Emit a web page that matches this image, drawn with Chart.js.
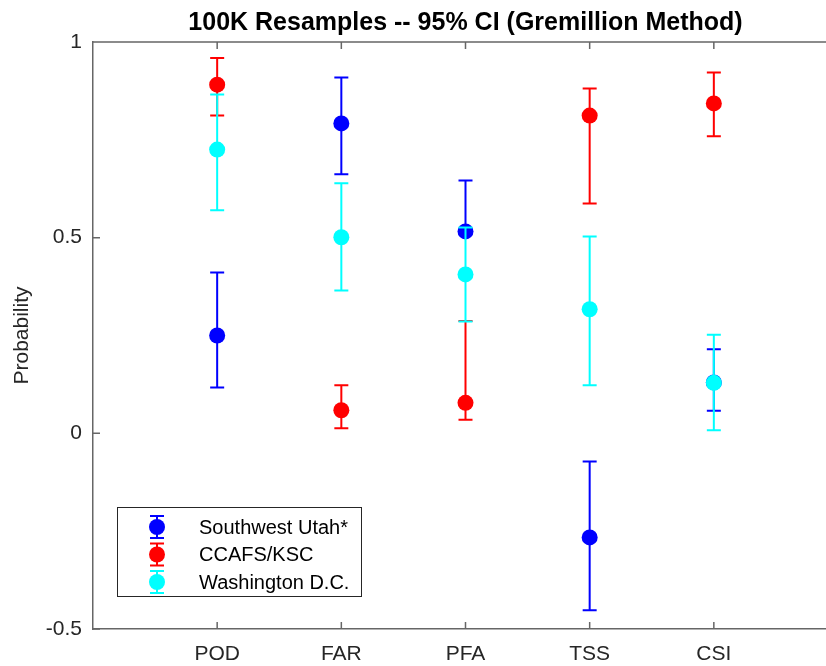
<!DOCTYPE html>
<html>
<head>
<meta charset="utf-8">
<title>Resample CI</title>
<script src="https://cdn.jsdelivr.net/npm/chart.js@4/dist/chart.umd.min.js"></script>
<style>
  html, body { margin: 0; padding: 0; overflow: hidden; background: #fff; }
</style>
</head>
<body>
<canvas id="chart" width="930" height="666"></canvas>
<script>
const metrics = ["POD", "FAR", "PFA", "TSS", "CSI"];
const yTicks = [-0.5, 0, 0.5, 1];

// mean and 95% interval per metric
const utahMean = [0.250, 0.792, 0.516, -0.266, 0.130];
const utahLow = [0.117, 0.662, 0.511, -0.452, 0.058];
const utahHigh = [0.411, 0.909, 0.646, -0.072, 0.215];

const kscMean = [0.891, 0.059, 0.078, 0.812, 0.843];
const kscLow = [0.812, 0.013, 0.035, 0.587, 0.759];
const kscHigh = [0.959, 0.123, 0.287, 0.881, 0.922];

const dcMean = [0.725, 0.501, 0.406, 0.317, 0.129];
const dcLow = [0.570, 0.365, 0.286, 0.123, 0.008];
const dcHigh = [0.866, 0.639, 0.526, 0.503, 0.252];

const series = [
  { label: "Southwest Utah*", color: "#0000ff", mean: utahMean, low: utahLow, high: utahHigh, order: 2 },
  { label: "CCAFS/KSC", color: "#ff0000", mean: kscMean, low: kscLow, high: kscHigh, order: 1 },
  { label: "Washington D.C.", color: "#00ffff", mean: dcMean, low: dcLow, high: dcHigh, order: 0 },
];

const FONT = '"Liberation Sans", Arial, Helvetica, sans-serif';
const AXIS = "#666666";
const TEXT = "#262626";
Chart.defaults.font.family = FONT;

// vertical bar + caps, drawn right before each series' markers
const errorBars = {
  id: "errorBars",
  beforeDatasetDraw(chart, args) {
    const ds = chart.data.datasets[args.index];
    const xs = chart.scales.x, ys = chart.scales.y;
    const ctx = chart.ctx;
    ctx.save();
    ctx.strokeStyle = ds.borderColor;
    ctx.lineWidth = 2;
    ds.data.forEach((p, i) => {
      const px = xs.getPixelForValue(p.x);
      const top = ys.getPixelForValue(ds.high[i]);
      const bot = ys.getPixelForValue(ds.low[i]);
      ctx.beginPath();
      ctx.moveTo(px, top); ctx.lineTo(px, bot);
      ctx.moveTo(px - 7, top); ctx.lineTo(px + 7, top);
      ctx.moveTo(px - 7, bot); ctx.lineTo(px + 7, bot);
      ctx.stroke();
    });
    ctx.restore();
  }
};

// box outline with inward ticks, plus the boxed legend
const frame = {
  id: "frame",
  afterDraw(chart) {
    const { ctx, chartArea: a } = chart;
    const xs = chart.scales.x, ys = chart.scales.y;
    ctx.save();
    ctx.strokeStyle = AXIS;
    ctx.lineWidth = 1.5;
    ctx.beginPath();
    ctx.moveTo(a.left, a.top); ctx.lineTo(a.right, a.top); ctx.lineTo(a.right, a.bottom);
    metrics.forEach((_, i) => {
      const px = xs.getPixelForValue(i + 1);
      ctx.moveTo(px, a.bottom); ctx.lineTo(px, a.bottom - 7);
      ctx.moveTo(px, a.top); ctx.lineTo(px, a.top + 7);
    });
    yTicks.forEach(v => {
      const py = ys.getPixelForValue(v);
      ctx.moveTo(a.left, py); ctx.lineTo(a.left + 7, py);
      ctx.moveTo(a.right, py); ctx.lineTo(a.right - 7, py);
    });
    ctx.stroke();

    // legend
    const bx = 117, by = 507, bw = 244, bh = 89;
    ctx.fillStyle = "#fff";
    ctx.fillRect(bx, by, bw, bh);
    ctx.strokeStyle = "#262626";
    ctx.lineWidth = 1;
    ctx.strokeRect(bx + 0.5, by + 0.5, bw, bh);
    ctx.font = "20px " + FONT;
    ctx.textBaseline = "middle";
    ctx.textAlign = "left";
    series.forEach((s, i) => {
      const cy = 527 + i * 27.5, cx = 157;
      ctx.strokeStyle = s.color;
      ctx.lineWidth = 2;
      ctx.beginPath();
      ctx.moveTo(cx, cy - 11); ctx.lineTo(cx, cy + 11);
      ctx.moveTo(cx - 7, cy - 11); ctx.lineTo(cx + 7, cy - 11);
      ctx.moveTo(cx - 7, cy + 11); ctx.lineTo(cx + 7, cy + 11);
      ctx.stroke();
      ctx.fillStyle = s.color;
      ctx.beginPath();
      ctx.arc(cx, cy, 8, 0, Math.PI * 2);
      ctx.fill();
      ctx.fillStyle = "#000";
      ctx.fillText(s.label, 199, cy + 1);
    });
    ctx.restore();
  }
};

new Chart(document.getElementById("chart"), {
  type: "scatter",
  data: {
    datasets: series.map(s => ({
      label: s.label,
      data: s.mean.map((v, i) => ({ x: i + 1, y: v })),
      low: s.low,
      high: s.high,
      order: s.order,
      backgroundColor: s.color,
      borderColor: s.color,
      borderWidth: 0,
      pointRadius: 8,
      pointHoverRadius: 8,
    })),
  },
  options: {
    responsive: false,
    animation: false,
    devicePixelRatio: 1,
    layout: { padding: { left: 0, right: 92, top: 0, bottom: 0 } },
    plugins: {
      legend: { display: false },
      tooltip: { enabled: false },
      title: {
        display: true,
        fullSize: false,
        text: "100K Resamples -- 95% CI (Gremillion Method)",
        color: "#000",
        font: { size: 25, weight: "bold" },
        padding: { top: 8, bottom: 4 },
      },
    },
    scales: {
      x: {
        type: "linear",
        min: 0,
        max: 6,
        afterBuildTicks: s => { s.ticks = metrics.map((_, i) => ({ value: i + 1 })); },
        afterFit: s => { s.height = 37; },
        ticks: {
          callback: v => metrics[v - 1],
          color: TEXT,
          font: { size: 21 },
          padding: 13,
          maxRotation: 0,
          autoSkip: false,
        },
        grid: { display: false, drawTicks: false },
        border: { display: true, color: AXIS, width: 1.5 },
      },
      y: {
        min: -0.5,
        max: 1,
        afterBuildTicks: s => { s.ticks = yTicks.map(v => ({ value: v })); },
        afterFit: s => { s.width = 93; },
        ticks: {
          callback: v => String(v),
          color: TEXT,
          font: { size: 21 },
          padding: 11,
        },
        grid: { display: false, drawTicks: false },
        border: { display: true, color: AXIS, width: 1.5 },
        title: {
          display: true,
          text: "Probability",
          color: TEXT,
          font: { size: 21 },
          padding: { top: 10, bottom: 0 },
        },
      },
    },
  },
  plugins: [errorBars, frame],
});
</script>
</body>
</html>
